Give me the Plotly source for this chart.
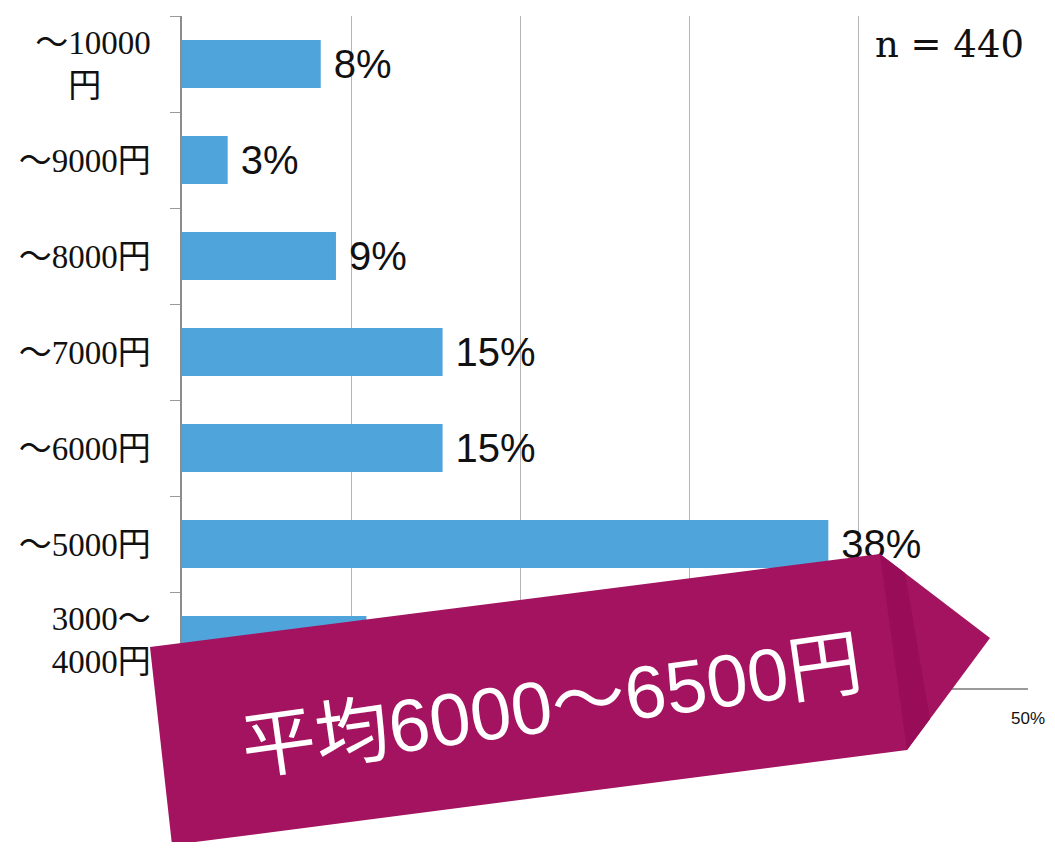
import plotly.graph_objects as go

categories = ["～10000<br>円\u2003\u2002", "～9000円", "～8000円", "～7000円", "～6000円", "～5000円", "3000～<br>4000円"]
values = [8.2, 2.7, 9.1, 15.4, 15.4, 38.2, 10.9]
x_ticks = [0, 10, 20, 30, 40, 50]
x_tick_labels = ["0%", "10%", "20%", "30%", "40%", "50%"]
sample_note = "n = 440"
banner_text = "平均6000～6500円"

# page body has an 8px margin; work in screen pixels and convert
OFF = 8
W, H = 1047, 834
L, R, T, B = 182 - OFF, 1028 - OFF, 16 - OFF, 688 - OFF

def px(x):
    return (x - OFF - L) / (R - L)

def py(y):
    return (B - (y - OFF)) / (B - T)

fig = go.Figure()
fig.add_trace(go.Bar(
    y=categories, x=values, orientation="h", width=0.5,
    marker=dict(color="#4FA5DB", line=dict(width=0)),
    texttemplate="\u2005%{x:.0f}%", textposition="outside", cliponaxis=False,
    textfont=dict(family="Liberation Sans, Arial, sans-serif", size=40, color="#111111"),
    hoverinfo="skip",
))

arrow_pts = [(150, 647), (880, 554), (990, 638), (907, 750), (172, 845)]
path = "M " + " L ".join(f"{px(a):.5f},{py(b):.5f}" for a, b in arrow_pts) + " Z"
band_pts = [(880, 554), (905, 573), (930, 719), (907, 750)]
band_path = "M " + " L ".join(f"{px(a):.5f},{py(b):.5f}" for a, b in band_pts) + " Z"

fig.update_layout(
    width=W, height=H,
    margin=dict(l=L, r=W - R, t=T, b=H - B),
    paper_bgcolor="white", plot_bgcolor="white",
    showlegend=False,
    bargap=0.5,
    xaxis=dict(
        range=[0, 50], tickvals=x_ticks, ticktext=x_tick_labels,
        showgrid=True, gridcolor="#B5B5B5", gridwidth=1,
        zeroline=False, showline=True, linecolor="#9A9A9A", linewidth=1.5,
        ticks="", ticklabelstandoff=14,
        tickfont=dict(family="Liberation Sans, Arial, sans-serif", size=17, color="#111111"),
        fixedrange=True,
    ),
    yaxis=dict(
        autorange="reversed", type="category",
        showline=True, linecolor="#8C8C8C", linewidth=1.5,
        ticks="outside", tickson="boundaries", ticklen=10, tickcolor="#9A9A9A", tickwidth=1,
        ticklabelstandoff=23,
        tickfont=dict(family="Liberation Serif, Noto Sans CJK JP, serif", size=33, color="#111111"),
        showgrid=False, fixedrange=True,
    ),
    shapes=[
        dict(type="path", path=path, xref="paper", yref="paper",
             fillcolor="#A3135F", line=dict(width=0), layer="above"),
        dict(type="path", path=band_path, xref="paper", yref="paper",
             fillcolor="#990D58", line=dict(width=0), layer="above"),
    ],
    annotations=[
        dict(text=sample_note, xref="paper", yref="paper", x=px(1026), y=py(45),
             xanchor="right", yanchor="middle", showarrow=False,
             font=dict(family="DejaVu Serif, serif", size=37, color="#111111")),
        dict(text=banner_text, xref="paper", yref="paper", x=px(551), y=py(705),
             xanchor="center", yanchor="middle", showarrow=False, textangle=-8,
             font=dict(family="Liberation Sans, Noto Sans CJK JP, sans-serif", size=74, color="white")),
    ],
)

fig.write_html("out.html")
